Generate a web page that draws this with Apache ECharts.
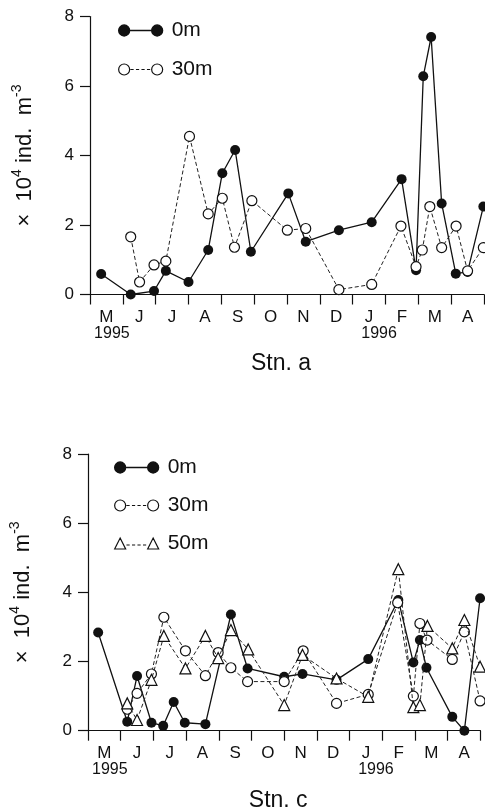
<!DOCTYPE html>
<html><head><meta charset="utf-8">
<script src="https://cdn.jsdelivr.net/npm/echarts@6/dist/echarts.min.js"></script>
<style>html,body{margin:0;padding:0;background:#fff}#c{width:485px;height:810px}</style>
</head><body><div id="c"></div>
<script>
// Month tick labels (May 1995 - April 1996); x values are months after 1 May 1995
const monthLabels = ['M','J','J','A','S','O','N','D','J','F','M','A'];
const yearLabels = ['1995','','','','','','','','1996','','',''];

// Stn. a, 0 m
const a0T = [0.34,1.24,1.95,2.31,3.0,3.6,4.03,4.42,4.9,6.04,6.57,7.58,8.58,9.49,9.93,10.15,10.39,10.71,11.14,11.5,11.98];
const a0V = [0.59,0,0.1,0.68,0.36,1.28,3.49,4.16,1.23,2.91,1.52,1.85,2.08,3.32,0.7,6.28,7.41,2.62,0.6,0.65,2.53];
// Stn. a, 30 m
const a30T = [1.24,1.51,1.95,2.31,3.03,3.6,4.03,4.4,4.93,6.01,6.57,7.58,8.58,9.47,9.93,10.12,10.35,10.71,11.15,11.5,11.98];
const a30V = [1.66,0.36,0.85,0.96,4.55,2.32,2.77,1.36,2.7,1.85,1.9,0.14,0.29,1.97,0.8,1.28,2.53,1.35,1.97,0.68,1.35];
// Stn. c, 0 m
const c0T = [0.31,1.2,1.5,1.94,2.3,2.62,2.96,3.59,4.37,4.88,6.0,6.56,7.6,8.57,9.49,9.95,10.15,10.35,11.14,11.51,11.99];
const c0V = [2.84,0.26,1.58,0.23,0.14,0.83,0.23,0.19,3.36,1.8,1.56,1.64,1.47,2.07,3.78,1.97,2.62,1.82,0.4,0,3.83];
// Stn. c, 30 m
const c30T = [1.2,1.5,1.94,2.32,2.98,3.59,3.98,4.37,4.88,6.0,6.58,7.6,8.57,9.47,9.95,10.15,10.37,11.14,11.51,11.99];
const c30V = [0.62,1.08,1.64,3.28,2.31,1.59,2.26,1.82,1.42,1.42,2.31,0.79,1.05,3.7,1.0,3.1,2.62,2.06,2.86,0.86];
// Stn. c, 50 m
const c50T = [1.2,1.5,1.94,2.32,2.98,3.59,3.98,4.37,4.9,6.0,6.56,7.6,8.57,9.49,9.95,10.15,10.38,11.14,11.51,11.99];
const c50V = [0.79,0.31,1.47,2.74,1.8,2.74,2.1,2.91,2.35,0.74,2.19,1.51,0.98,4.67,0.68,0.74,3.03,2.38,3.2,1.85];

const yTicks = {min:0, max:8, interval:2};

const zip = (t, v) => t.map((x, i) => [x, v[i]]);
const FONT = 'Liberation Sans, Arial, sans-serif';
const INK = '#111';

// legend icon paths (style only)
const circ = cx => `M${cx-5.5},5.5 A5.5,5.5 0 1,1 ${cx+5.5},5.5 A5.5,5.5 0 1,1 ${cx-5.5},5.5 Z`;
const tri = cx => `M${cx-5.5},11 L${cx},0 L${cx+5.5},11 Z`;
function dashes(y) { let s = ''; for (let x = 11; x < 33; x += 5.5) s += `M${x+0.8},${y} L${Math.min(x+4, 33)},${y} `; return s; }
const iconFilled = 'path://' + circ(5.5) + ' ' + circ(38.5) + ' M11,5.5 L33,5.5';
const iconOpen = 'path://' + circ(5.5) + ' ' + circ(38.5) + ' ' + dashes(5.5);
const iconTri = 'path://' + tri(5.5) + ' ' + tri(38.5) + ' ' + dashes(7);

function legendCfg(top, left, gap, names) {
  const styles = {
    '0m': {icon: iconFilled, itemStyle: {color: INK, borderColor: INK, borderWidth: 1.3}},
    '30m': {icon: iconOpen, itemStyle: {color: '#fff', borderColor: INK, borderWidth: 1.2}},
    '50m': {icon: iconTri, itemStyle: {color: '#fff', borderColor: INK, borderWidth: 1.2}}
  };
  return {
    top, left, orient: 'vertical', itemWidth: 44, itemHeight: 11, itemGap: gap, selectedMode: false,
    textStyle: {fontSize: 21, color: INK, fontFamily: FONT, padding: [0, 0, 0, 4]},
    data: names.map(n => Object.assign({name: n}, styles[n]))
  };
}

function valueX(grid) {
  return {type: 'value', gridIndex: grid, min: 0, max: 12, interval: 1, position: 'bottom',
    axisLine: {show: true, lineStyle: {color: INK, width: 1.2}},
    axisTick: {show: true, inside: false, length: 10, lineStyle: {color: INK, width: 1.2}},
    axisLabel: {show: false}, splitLine: {show: false}};
}
function catX(grid, name) {
  return {type: 'category', gridIndex: grid, data: monthLabels, position: 'bottom', boundaryGap: true,
    axisLine: {show: false}, axisTick: {show: false}, splitLine: {show: false},
    name, nameLocation: 'middle', nameGap: 58,
    nameTextStyle: {fontSize: 23, color: INK, fontFamily: FONT, padding: [0, 12, 0, 0]},
    axisLabel: {interval: 0, margin: 14, color: INK, fontFamily: FONT,
      formatter: (v, i) => yearLabels[i] ? `{m|${v}}\n{${i === 0 ? 'y1' : 'y2'}|${yearLabels[i]}}` : `{m|${v}}`,
      rich: {m: {fontSize: 17, lineHeight: 17, color: INK, fontFamily: FONT},
             y1: {fontSize: 16, lineHeight: 16, color: INK, fontFamily: FONT, padding: [0, 0, 0, 11]},
             y2: {fontSize: 16, lineHeight: 16, color: INK, fontFamily: FONT, padding: [0, 0, 0, 20]}}}};
}
function valueY(grid) {
  return Object.assign({type: 'value', gridIndex: grid,
    axisLine: {show: true, lineStyle: {color: INK, width: 1.2}},
    axisTick: {show: true, inside: false, length: 10, lineStyle: {color: INK, width: 1.2}},
    axisLabel: {fontSize: 17, color: INK, fontFamily: FONT, margin: 16},
    splitLine: {show: false},
    name: '{a|×  10}{s|4}{a| ind.  m}{s|-3}', nameLocation: 'middle', nameGap: 50,
    nameTextStyle: {color: INK, fontFamily: FONT, fontSize: 22,
      rich: {a: {fontSize: 22, color: INK, fontFamily: FONT, lineHeight: 30},
             s: {fontSize: 14, color: INK, fontFamily: FONT, verticalAlign: 'top', lineHeight: 12}}}
  }, yTicks);
}

function lineSeries(name, xi, yi, data, kind) {
  const s = {type: 'line', name, xAxisIndex: xi, yAxisIndex: yi, data, symbolSize: 10, showSymbol: true};
  if (kind === 'filled') {
    Object.assign(s, {symbol: 'circle', itemStyle: {color: INK}, lineStyle: {color: INK, width: 1.3}, z: 2});
  } else if (kind === 'open') {
    Object.assign(s, {symbol: 'circle', itemStyle: {color: '#fff', borderColor: INK, borderWidth: 1.2},
      lineStyle: {color: '#222', width: 1, type: [4, 2.5]}, z: 3});
  } else {
    Object.assign(s, {symbol: 'triangle', symbolSize: 11, itemStyle: {color: '#fff', borderColor: INK, borderWidth: 1.2},
      lineStyle: {color: '#222', width: 1, type: [4, 2.5]}, z: 4});
  }
  return s;
}

const chart = echarts.init(document.getElementById('c'), null, {renderer: 'canvas'});
chart.setOption({
  animation: false,
  backgroundColor: '#fff',
  grid: [
    {left: 90, top: 16.5, width: 394, height: 278, outerBoundsMode: 'none', containLabel: false},
    {left: 88, top: 454, width: 392.4, height: 276.7, outerBoundsMode: 'none', containLabel: false}
  ],
  legend: [legendCfg(15, 113, 18, ['0m', '30m']), legendCfg(452, 109, 17, ['0m', '30m', '50m'])],
  xAxis: [valueX(0), catX(0, 'Stn. a'), valueX(1), catX(1, 'Stn. c')],
  yAxis: [valueY(0), valueY(1)],
  series: [
    lineSeries('0m', 0, 0, zip(a0T, a0V), 'filled'),
    lineSeries('30m', 0, 0, zip(a30T, a30V), 'open'),
    lineSeries('0m', 2, 1, zip(c0T, c0V), 'filled'),
    lineSeries('30m', 2, 1, zip(c30T, c30V), 'open'),
    lineSeries('50m', 2, 1, zip(c50T, c50V), 'tri')
  ]
});
</script></body></html>
